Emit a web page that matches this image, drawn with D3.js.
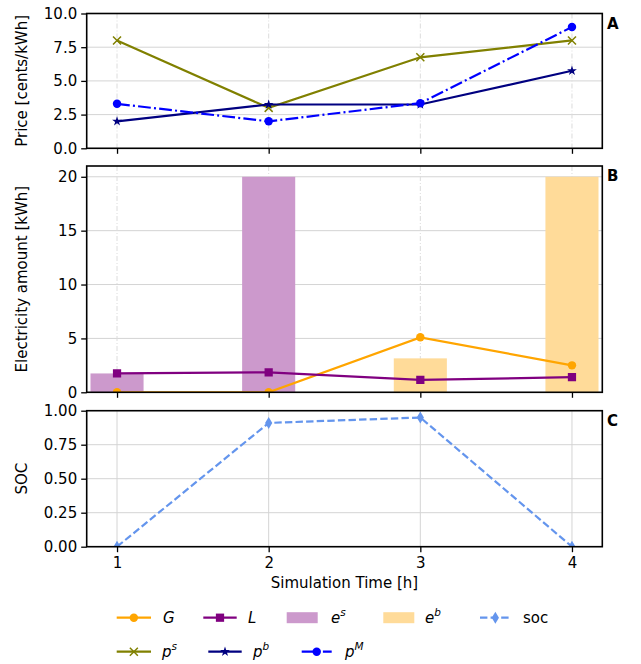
<!DOCTYPE html>
<html>
<head>
<meta charset="utf-8">
<script src="https://cdn.jsdelivr.net/npm/d3@7"></script>
<style>
  body { margin: 0; background: #fff; }
  text { font-family: "DejaVu Sans", sans-serif; }
</style>
</head>
<body>
<script>
// data
var hours = [1, 2, 3, 4];
var priceSell = [8.0, 3.0, 6.75, 8.0];     // p^s
var priceBuy = [2.0, 3.25, 3.25, 5.75];    // p^b
var priceMarket = [3.3, 2.0, 3.35, 9.0];   // p^M
var genG = [0, 0, 5.1, 2.5];
var loadL = [1.75, 1.85, 1.15, 1.4];
var eSell = [1.75, 20, 0, 0];
var eBuy = [0, 0, 3.15, 20];
var soc = [0, 0.91, 0.95, 0];
var priceTicks = [0, 2.5, 5, 7.5, 10];
var energyTicks = [0, 5, 10, 15, 20];
var socTicks = [0, 0.25, 0.5, 0.75, 1];

var W = 641, H = 664;
var left = 86.7, right = 602.3;
var fs = 15;
var svg = d3.select("body").append("svg").attr("width", W).attr("height", H);

var x = d3.scaleLinear().domain([0.8, 4.2]).range([left, right]);

var panels = [
  {top: 13.5, bottom: 148.3, dom: [0, 10], ticks: priceTicks, fmt: d3.format(".1f"), label: "Price [cents/kWh]", tag: "A", vdash: true},
  {top: 166, bottom: 392.3, dom: [0, 21], ticks: energyTicks, fmt: d3.format("d"), label: "Electricity amount [kWh]", tag: "B", vdash: true},
  {top: 410.7, bottom: 546.7, dom: [0, 1], ticks: socTicks, fmt: d3.format(".2f"), label: "SOC", tag: "C", vdash: false}
];

panels.forEach(function(p, i) {
  p.y = d3.scaleLinear().domain(p.dom).range([p.bottom, p.top]);
  p.g = svg.append("g");
  svg.append("clipPath").attr("id", "clip" + i).append("rect")
    .attr("x", left).attr("y", p.top).attr("width", right - left).attr("height", p.bottom - p.top);
  // grid
  p.g.append("g").selectAll("line").data(p.ticks).enter().append("line")
    .attr("x1", left).attr("x2", right)
    .attr("y1", function(d) { return p.y(d); }).attr("y2", function(d) { return p.y(d); })
    .attr("stroke", "#d4d4d4").attr("stroke-width", 1);
  p.g.append("g").selectAll("line").data(hours).enter().append("line")
    .attr("x1", function(d) { return x(d); }).attr("x2", function(d) { return x(d); })
    .attr("y1", p.top).attr("y2", p.bottom)
    .attr("stroke", p.vdash ? "#dcdcdc" : "#d4d4d4").attr("stroke-width", 1)
    .attr("stroke-dasharray", p.vdash ? "5,2,1,2" : null);
  p.plot = p.g.append("g").attr("clip-path", "url(#clip" + i + ")");
});

function line(p, vals) {
  return d3.line().x(function(d, i) { return x(hours[i]); }).y(function(d) { return p.y(d); })(vals);
}
function series(p, vals, color, dash, marker) {
  p.plot.append("path").attr("d", line(p, vals)).attr("fill", "none")
    .attr("stroke", color).attr("stroke-width", 2.2).attr("stroke-dasharray", dash);
  vals.forEach(function(v, i) { drawMarker(p.plot, marker, x(hours[i]), p.y(v), color); });
}
function drawMarker(g, m, cx, cy, color) {
  if (m === "x") {
    g.append("path").attr("d", "M-4,-4L4,4M-4,4L4,-4").attr("transform", "translate(" + cx + "," + cy + ")")
      .attr("stroke", color).attr("stroke-width", 1.5).attr("fill", "none");
  } else if (m === "d") {
    g.append("path").attr("d", "M0,-6L3.6,0L0,6L-3.6,0Z").attr("transform", "translate(" + cx + "," + cy + ")")
      .attr("fill", color);
  } else {
    var t = m === "o" ? d3.symbolCircle : m === "s" ? d3.symbolSquare : d3.symbolStar;
    var s = m === "o" ? 56 : m === "s" ? 68 : 30;
    g.append("path").attr("d", d3.symbol().type(t).size(s)()).attr("transform", "translate(" + cx + "," + cy + ")")
      .attr("fill", color);
  }
}

// A: prices
var pA = panels[0];
series(pA, priceSell, "#808000", null, "x");
series(pA, priceBuy, "#000080", null, "*");
series(pA, priceMarket, "#0000ff", "12.8,3.2,2,3.2", "o");

// B: bars + lines
var pB = panels[1];
var bw = x(1.35) - x(1);
pB.plot.selectAll("rect.es").data(eSell).enter().append("rect")
  .attr("x", function(d, i) { return x(hours[i]) - bw / 2; }).attr("width", bw)
  .attr("y", function(d) { return pB.y(d); }).attr("height", function(d) { return pB.y(0) - pB.y(d); })
  .attr("fill", "#cc99cc");
pB.plot.selectAll("rect.eb").data(eBuy).enter().append("rect")
  .attr("x", function(d, i) { return x(hours[i]) - bw / 2; }).attr("width", bw)
  .attr("y", function(d) { return pB.y(d); }).attr("height", function(d) { return pB.y(0) - pB.y(d); })
  .attr("fill", "#ffdb99");
series(pB, genG, "#ffa500", null, "o");
series(pB, loadL, "#800080", null, "s");

// C: soc
var pC = panels[2];
series(pC, soc, "#6495ed", "7.4,3.2", "d");

// axes, spines, labels
panels.forEach(function(p, i) {
  var ya = d3.axisLeft(p.y).tickValues(p.ticks).tickFormat(p.fmt).tickSize(5.5).tickPadding(4);
  var yg = svg.append("g").attr("transform", "translate(" + left + ",0)").call(ya);
  var xa = d3.axisBottom(x).tickValues(hours).tickSize(5.5).tickPadding(5)
    .tickFormat(i === 2 ? d3.format("d") : function() { return ""; });
  var xg = svg.append("g").attr("transform", "translate(0," + p.bottom + ")").call(xa);
  [yg, xg].forEach(function(g) {
    g.select(".domain").remove();
    g.selectAll(".tick line").attr("stroke", "#000").attr("stroke-width", 1.3);
    g.selectAll("text").attr("font-size", fs).attr("fill", "#000").attr("font-family", "DejaVu Sans");
  });
  svg.append("rect").attr("x", left).attr("y", p.top).attr("width", right - left).attr("height", p.bottom - p.top)
    .attr("fill", "none").attr("stroke", "#000").attr("stroke-width", 1.6);
  svg.append("text").attr("transform", "translate(22," + ((p.top + p.bottom) / 2) + ") rotate(-90)")
    .attr("text-anchor", "middle").attr("dy", "0.35em").attr("font-size", fs).text(p.label);
  svg.append("text").attr("x", 607).attr("y", p.top + 10).attr("dy", "0.35em")
    .attr("font-size", 15).attr("font-weight", "bold").text(p.tag);
});

svg.append("text").attr("x", (left + right) / 2).attr("y", 583).attr("dy", "0.35em")
  .attr("text-anchor", "middle").attr("font-size", fs).text("Simulation Time [h]");

// legend
var leg = svg.append("g");
function legLabel(lx, ly, base, sup) {
  var t = leg.append("text").attr("x", lx).attr("y", ly).attr("dy", "0.35em")
    .attr("font-size", 15).attr("font-style", "italic");
  t.append("tspan").text(base);
  if (sup) t.append("tspan").attr("font-size", 10.5).attr("dy", "-0.65em").text(sup);
  return t;
}
function legLine(x1, x2, ly, color, dash, marker) {
  leg.append("line").attr("x1", x1).attr("x2", x2).attr("y1", ly).attr("y2", ly)
    .attr("stroke", color).attr("stroke-width", 2.2).attr("stroke-dasharray", dash);
  drawMarker(leg, marker, (x1 + x2) / 2, ly, color);
}
var r1 = 617.7, r2 = 651.7;
legLine(116.7, 151, r1, "#ffa500", null, "o");  legLabel(163, r1, "G");
legLine(203.3, 236.7, r1, "#800080", null, "s"); legLabel(248, r1, "L");
leg.append("rect").attr("x", 286.7).attr("y", r1 - 5.5).attr("width", 31).attr("height", 11).attr("fill", "#cc99cc");
legLabel(331, r1, "e", "s");
leg.append("rect").attr("x", 383.3).attr("y", r1 - 5.5).attr("width", 31).attr("height", 11).attr("fill", "#ffdb99");
legLabel(425, r1, "e", "b");
legLine(480, 510.7, r1, "#6495ed", "7.4,3.2", "d");
leg.append("text").attr("x", 523).attr("y", r1).attr("dy", "0.35em").attr("font-size", fs).text("soc");
legLine(116.7, 151, r2, "#808000", null, "x");  legLabel(162, r2, "p", "s");
legLine(208.3, 241.7, r2, "#000080", null, "*"); legLabel(253, r2, "p", "b");
legLine(301.7, 331.7, r2, "#0000ff", "12.8,3.2,2,3.2", "o"); legLabel(345, r2, "p", "M");
</script>
</body>
</html>
